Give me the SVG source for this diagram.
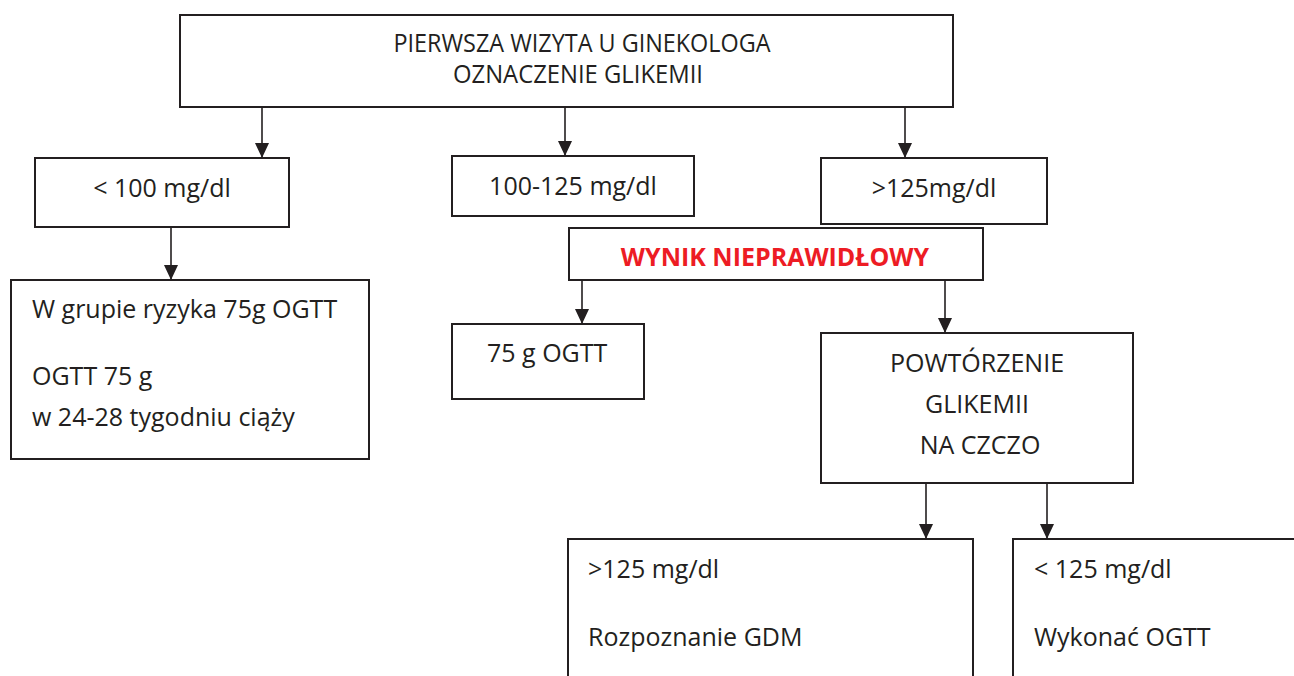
<svg xmlns="http://www.w3.org/2000/svg" width="1294" height="676" viewBox="0 0 1294 676">
<style>
.box{fill:#fff;stroke:#231f20;stroke-width:2}
.t{font-family:"Open Sans","Liberation Sans",sans-serif;font-size:25px;fill:#231f20}
.c{text-anchor:middle}
.red{font-family:"Open Sans","Liberation Sans",sans-serif;font-size:25px;font-weight:bold;fill:#ed1c24;text-anchor:middle}
.conn line{stroke:#231f20;stroke-width:1.6;marker-end:url(#ah)}
</style>
<defs>
<marker id="ah" viewBox="0 0 15 14" markerWidth="15" markerHeight="14" refX="15" refY="7" orient="auto" markerUnits="userSpaceOnUse">
<path d="M0,0 L15,7 L0,14 z" fill="#231f20"/>
</marker>
</defs>
<rect width="1294" height="676" fill="#fff"/>
<g id="top">
<rect class="box" x="180" y="15" width="773" height="92"/>
<text class="t c" x="582" y="52" textLength="377" lengthAdjust="spacingAndGlyphs">PIERWSZA WIZYTA U GINEKOLOGA</text>
<text class="t c" x="578" y="83" textLength="250" lengthAdjust="spacingAndGlyphs">OZNACZENIE GLIKEMII</text>
</g>
<g id="lt100">
<rect class="box" x="35" y="158" width="254" height="69"/>
<text class="t c" x="162" y="197">&lt; 100 mg/dl</text>
</g>
<g id="r100_125">
<rect class="box" x="452" y="156" width="242" height="60"/>
<text class="t c" x="573" y="195">100-125 mg/dl</text>
</g>
<g id="gt125">
<rect class="box" x="821" y="158" width="226" height="66"/>
<text class="t c" x="934" y="197">&gt;125mg/dl</text>
</g>
<g id="wynik">
<rect class="box" x="569" y="228" width="414" height="52"/>
<text class="red" x="775" y="266">WYNIK NIEPRAWIDŁOWY</text>
</g>
<g id="ryzyko">
<rect class="box" x="11" y="280" width="358" height="179"/>
<text class="t" x="32" y="318">W grupie ryzyka 75g OGTT</text>
<text class="t" x="32" y="385">OGTT 75 g</text>
<text class="t" x="32" y="426">w 24-28 tygodniu ciąży</text>
</g>
<g id="ogtt">
<rect class="box" x="452" y="324" width="192" height="75"/>
<text class="t" x="487" y="362">75 g OGTT</text>
</g>
<g id="powt">
<rect class="box" x="821" y="333" width="312" height="150"/>
<text class="t c" x="977" y="372">POWTÓRZENIE</text>
<text class="t c" x="977" y="413">GLIKEMII</text>
<text class="t c" x="980" y="454">NA CZCZO</text>
</g>
<g id="gdm">
<rect class="box" x="568" y="539" width="405" height="160"/>
<text class="t" x="588" y="578">&gt;125 mg/dl</text>
<text class="t" x="588" y="646">Rozpoznanie GDM</text>
</g>
<g id="wykonac">
<rect class="box" x="1013" y="539" width="300" height="160"/>
<text class="t" x="1034" y="578">&lt; 125 mg/dl</text>
<text class="t" x="1034" y="646">Wykonać OGTT</text>
</g>
<g class="conn" id="connectors">
<line x1="262" y1="107" x2="262" y2="158"/>
<line x1="565" y1="107" x2="565" y2="156"/>
<line x1="905" y1="107" x2="905" y2="158"/>
<line x1="171" y1="227" x2="171" y2="280"/>
<line x1="582" y1="280" x2="582" y2="324"/>
<line x1="945" y1="280" x2="945" y2="333"/>
<line x1="926" y1="483" x2="926" y2="539"/>
<line x1="1047" y1="483" x2="1047" y2="539"/>
</g>
</svg>
